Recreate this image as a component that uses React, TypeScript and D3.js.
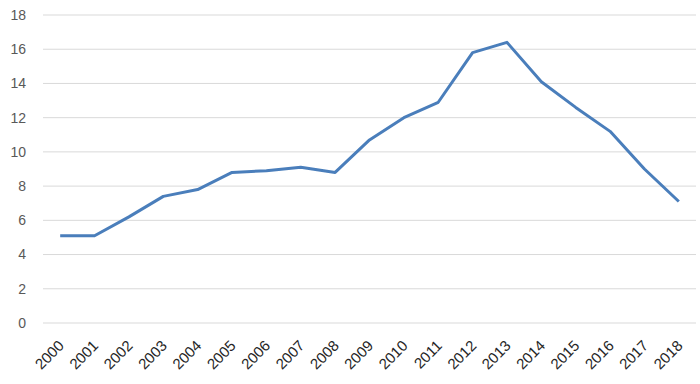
import React from "react";
import * as d3 from "d3";

const years = ["2000","2001","2002","2003","2004","2005","2006","2007","2008","2009","2010","2011","2012","2013","2014","2015","2016","2017","2018"];
const values = [5.1, 5.1, 6.2, 7.4, 7.8, 8.8, 8.9, 9.1, 8.8, 10.7, 12.0, 12.9, 15.8, 16.4, 14.1, 12.6, 11.2, 9.0, 7.1];
const yTicks = [0, 2, 4, 6, 8, 10, 12, 14, 16, 18];

export default function App() {
  const W = 700, H = 384;
  const left = 43, right = 696, top = 15, bottom = 323;
  const x = d3.scaleBand<string>().domain(years).range([left, right]);
  const y = d3.scaleLinear().domain([0, 18]).range([bottom, top]);
  const line = d3.line<number>()
    .x((_, i) => (x(years[i]) as number) + x.bandwidth() / 2)
    .y((d) => y(d));
  const font = "Liberation Sans, Arial, sans-serif";
  return (
    <svg width={W} height={H} style={{ position: "absolute", left: 0, top: 0 }} fontFamily={font}>
      <rect width={W} height={H} fill="#fff" />
      {yTicks.map((t) => (
        <g key={t}>
          <line x1={left} x2={right} y1={y(t)} y2={y(t)} stroke="#d9d9d9" strokeWidth={1} />
          <text x={26} y={y(t)} dy="0.35em" textAnchor="end" fontSize={14} fill="#595959">{t}</text>
        </g>
      ))}
      <path d={line(values) || ""} fill="none" stroke="#4a7ebb" strokeWidth={3} strokeLinejoin="round" />
      {years.map((yr) => {
        const cx = (x(yr) as number) + x.bandwidth() / 2;
        return (
          <text key={yr} transform={`translate(${cx + 1},${bottom + 20}) rotate(-45)`} textAnchor="end" dy="0.35em" fontSize={15} fill="#262626">{yr}</text>
        );
      })}
    </svg>
  );
}
